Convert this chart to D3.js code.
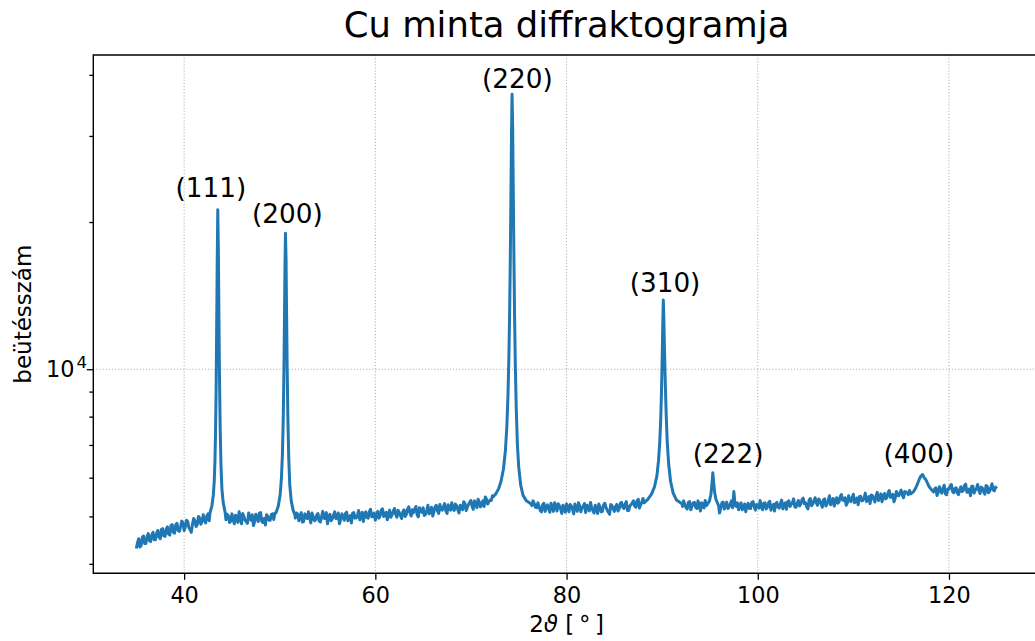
<!DOCTYPE html>
<html>
<head>
<meta charset="utf-8">
<script src="https://cdnjs.cloudflare.com/ajax/libs/d3/7.8.5/d3.min.js"></script>
<style>
  body { margin: 0; background: #fff; }
  svg { display: block; font-family: 'DejaVu Sans', sans-serif; }
</style>
</head>
<body>
<script>
// háttér (35°-tól 0.25°-os lépésben), a csúcsok alatt a csúcs-tömbök lépnek be
var bgStart = 35, bgStep = 0.25;
var bgCounts = [
  4300, 4500, 4360, 4560,  4400, 4610, 4440, 4640,  4480, 4680, 4500, 4720,  4550, 4760, 4580, 4810,
  4620, 4840, 4660, 4890,  4680, 4910, 4740, 4640,  4950, 4770, 5000, 4820,  5040, 4850, 5060, 4960,
  5000, 5000, 5000, 5000,  5000, 5000, 5050, 4860,  5060, 4830, 4960, 5110,  4830, 5000, 4880, 5080,
  4910, 4790, 5050, 4880,  5090, 4860, 4800, 5000,  4910, 5060, 5080, 5000,  5000, 5000, 5000, 5000,
  5000, 5000, 5000, 5080,  4900, 5090, 4880, 5010,  5110, 4850, 5000, 4920,  5070, 4870, 5120, 4950,
  4830, 5050, 4940, 5110,  4960, 4830, 5060, 4910,  5100, 4950, 4850, 5090,  4960, 5140, 4990, 4880,
  5110, 4960, 5170, 5000,  4910, 5120, 5010, 5180,  5030, 4920, 5150, 5040,  5190, 4980, 5090, 4950,
  5160, 5050, 5230, 5010,  5090, 5240, 4990, 5130,  5210, 5050, 5270, 5100,  5010, 5230, 5130, 5290,
  5150, 5310, 5070, 5220,  5330, 5140, 5260, 5080,  5250, 5360, 5140, 5290,  5390, 5170, 5310, 5420,
  5230, 5380, 5480, 5300,  5400, 5510, 5400, 5400,  5400, 5400, 5400, 5400,  5400, 5400, 5400, 5400,
  5400, 5400, 5400, 5400,  5400, 5400, 5380, 5220,  5330, 5140, 5280, 5120,  5280, 5100, 5240, 5330,
  5130, 5260, 5070, 5220,  5300, 5110, 5250, 5060,  5210, 5330, 5110, 5250,  5090, 5240, 5340, 5140,
  5270, 5070, 5230, 5120,  5320, 5150, 5050, 5260,  5120, 5290, 5180, 5340,  5190, 5360, 5140, 5280,
  5380, 5220, 5420, 5280,  5440, 5400, 5400, 5400,  5400, 5400, 5400, 5400,  5400, 5400, 5400, 5400,
  5400, 5400, 5400, 5400,  5300, 5380, 5210, 5350,  5160, 5330, 5220, 5380,  5130, 5300, 5390, 5300,
  5300, 5300, 5300, 5300,  5080, 5330, 5180, 5350,  5220, 5380, 5620, 5240,  5160, 5330, 5210, 5110,
  5320, 5190, 5360, 5150,  5270, 5390, 5160, 5330,  5220, 5370, 5260, 5130,  5340, 5200, 5400, 5270,
  5170, 5380, 5290, 5430,  5220, 5390, 5300, 5450,  5330, 5180, 5440, 5300,  5460, 5270, 5380, 5220,
  5430, 5300, 5510, 5340,  5250, 5460, 5350, 5540,  5390, 5270, 5510, 5360,  5550, 5380, 5280, 5500,
  5390, 5580, 5420, 5310,  5510, 5350, 5600, 5450,  5360, 5570, 5460, 5650,  5480, 5360, 5620, 5510,
  5660, 5460, 5610, 5540,  5600, 5600, 5600, 5600,  5600, 5600, 5600, 5600,  5600, 5600, 5690, 5520,
  5750, 5580, 5790, 5540,  5680, 5810, 5590, 5720,  5540, 5750, 5650, 5820,  5610, 5510, 5760, 5660,
  5810, 5570, 5710, 5550,  5760, 5630, 5830, 5640,  5700
];
// a köztes pontok (35.125°-tól 0.25°-os lépésben)
var bgCountsMid = [
  4420, 4330, 4530, 4400,  4550, 4460, 4590, 4480,  4620, 4540, 4700, 4560,  4710, 4600, 4790, 4640,
  4810, 4680, 4760, 4850,  4760, 4880, 4700, 4820,  4900, 4810, 4960, 4880,  4920, 5010, 4900, 5000,
  5000, 5000, 5000, 5000,  5000, 4920, 5010, 4890,  4930, 5030, 4860, 4980,  5070, 4910, 4840, 4990,
  5040, 4880, 4960, 5080,  4880, 4950, 5040, 4910,  5050, 4930, 5000, 5000,  5000, 5000, 5000, 5000,
  5000, 5000, 4960, 5060,  4990, 4870, 5060, 4950,  4980, 5080, 4900, 5030,  4890, 4990, 4960, 5090,
  5000, 4900, 5030, 4950,  5080, 4930, 4990, 5070,  4900, 5020, 5080, 4960,  5010, 4920, 5100, 5050,
  4970, 5120, 4990, 5080,  5040, 4960, 5150, 5000,  5100, 5060, 4980, 5120,  5050, 5150, 5020, 5110,
  5000, 5180, 5090, 5160,  5180, 5030, 5210, 5100,  5020, 5130, 5060, 5220,  5110, 5270, 5070, 5160,
  5240, 5130, 5280, 5150,  5190, 5300, 5160, 5270,  5160, 5310, 5220, 5350,  5240, 5380, 5210, 5350,
  5310, 5240, 5420, 5360,  5390, 5400, 5400, 5400,  5400, 5400, 5400, 5400,  5400, 5400, 5400, 5400,
  5400, 5400, 5400, 5400,  5400, 5260, 5310, 5210,  5240, 5110, 5320, 5200,  5190, 5320, 5120, 5260,
  5310, 5180, 5270, 5100,  5220, 5290, 5170, 5300,  5120, 5250, 5200, 5310,  5270, 5130, 5210, 5080,
  5190, 5300, 5110, 5280,  5220, 5100, 5290, 5180,  5240, 5130, 5320, 5220,  5300, 5140, 5260, 5330,
  5250, 5380, 5200, 5350,  5400, 5400, 5400, 5400,  5400, 5400, 5400, 5400,  5400, 5400, 5400, 5400,
  5400, 5400, 5400, 5400,  5240, 5290, 5180, 5360,  5250, 5340, 5190, 5270,  5330, 5200, 5260, 5300,
  5300, 5300, 5300, 5300,  5200, 5350, 5260, 5190,  5300, 5210, 5280, 5330,  5250, 5160, 5300, 5260,
  5190, 5340, 5240, 5290,  5200, 5240, 5320, 5180,  5330, 5150, 5290, 5310,  5220, 5310, 5180, 5330,
  5360, 5240, 5340, 5230,  5320, 5250, 5410, 5310,  5230, 5400, 5260, 5380,  5330, 5430, 5300, 5410,
  5250, 5390, 5280, 5440,  5380, 5320, 5490, 5400,  5460, 5330, 5390, 5470,  5330, 5450, 5490, 5380,
  5460, 5360, 5490, 5530,  5430, 5510, 5390, 5560,  5500, 5430, 5590, 5470,  5550, 5450, 5520, 5600,
  5520, 5620, 5580, 5650,  5600, 5600, 5600, 5600,  5600, 5600, 5600, 5600,  5600, 5610, 5720, 5600,
  5640, 5700, 5560, 5690,  5770, 5620, 5700, 5580,  5680, 5620, 5790, 5600,  5690, 5760, 5580, 5700,
  5650, 5740, 5620, 5780,  5590, 5720, 5660, 5740
];

// csúcsok: [2θ, beütés]
var peak111 = [[42.70, 5080], [42.90, 5250], [43.05, 5520], [43.15, 5900], [43.22, 6450], [43.28, 7300],
  [43.34, 8900], [43.40, 11800], [43.46, 16500], [43.52, 21200], [43.58, 17500], [43.64, 12800],
  [43.70, 9600], [43.77, 7600], [43.85, 6400], [43.95, 5700], [44.08, 5350], [44.30, 5080]];
var peak200 = [[49.60, 5080], [49.85, 5250], [50.05, 5550], [50.18, 6000], [50.28, 6700], [50.36, 7800],
  [50.43, 9600], [50.49, 12300], [50.55, 16200], [50.60, 18970], [50.66, 16800], [50.72, 12900],
  [50.78, 10000], [50.85, 8000], [50.94, 6600], [51.05, 5800], [51.20, 5380], [51.40, 5150], [51.60, 5030]];
var peak220 = [[72.30, 5480], [72.60, 5560], [72.90, 5700], [73.15, 5900], [73.40, 6250], [73.60, 6800],
  [73.75, 7600], [73.87, 8800], [73.97, 10600], [74.05, 13200], [74.12, 17000], [74.18, 22500],
  [74.24, 30000], [74.30, 36500], [74.36, 31500], [74.42, 24000], [74.49, 17500], [74.56, 13000],
  [74.64, 10200], [74.74, 8300], [74.86, 7000], [75.00, 6300], [75.20, 5800], [75.45, 5520],
  [75.80, 5380], [76.30, 5300]];
var peak310 = [[88.10, 5330], [88.50, 5420], [88.90, 5560], [89.20, 5750], [89.45, 6050], [89.62, 6500],
  [89.75, 7100], [89.85, 7900], [89.93, 9000], [90.00, 10400], [90.06, 12200], [90.12, 13850],
  [90.18, 12600], [90.25, 10800], [90.33, 9300], [90.42, 8100], [90.53, 7100], [90.68, 6400],
  [90.88, 5900], [91.15, 5580], [91.50, 5400], [92.10, 5300]];
var peak222 = [[94.70, 5280], [94.95, 5380], [95.10, 5550], [95.20, 5800], [95.30, 6140], [95.38, 5900],
  [95.48, 5620], [95.62, 5420], [95.90, 5260]];
var peak400 = [[116.00, 5560], [116.30, 5620], [116.55, 5730], [116.75, 5860], [116.95, 5990],
  [117.10, 6060], [117.25, 6090], [117.40, 6000], [117.55, 5960], [117.70, 5880], [117.90, 5760],
  [118.10, 5690], [118.30, 5640]];

var peakLabels = ['(111)', '(200)', '(220)', '(310)', '(222)', '(400)'];
var labelAngles = [42.8, 50.8, 74.85, 90.3, 96.9, 116.85];
var labelCounts = [22500, 19890, 37550, 14410, 6420, 6420];

var xTicks = [40, 60, 80, 100, 120];
var yMinorTicks = [4000, 5000, 6000, 7000, 8000, 9000, 20000, 30000, 40000];
var yMajorTicks = [10000];

var width = 1035, height = 641;
var plotL = 93.3, plotR = 1039.8, plotT = 55, plotB = 573.3;

var svg = d3.select('body').append('svg').attr('width', width).attr('height', height);

var x = d3.scaleLinear().domain([30.5, 129.5]).range([plotL, plotR]);
var y = d3.scaleLog().domain([3825, 43920]).range([plotB, plotT]);

// mérési pontok összefésülése
var peaks = [peak111, peak200, peak220, peak310, peak222, peak400];
var scan = [];
function addBg(counts, offset){
	counts.forEach(function(c, i){
		var a = bgStart + offset + i * bgStep;
		var inside = peaks.some(p => a >= p[0][0] && a <= p[p.length - 1][0]);
		if (!inside) scan.push([a, c]);
	});
}
addBg(bgCounts, 0);
addBg(bgCountsMid, bgStep / 2);
peaks.forEach(p => p.forEach(d => scan.push(d)));
scan.sort((a, b) => a[0] - b[0]);

// rács
var grid = svg.append('g').attr('stroke', '#b0b0b0').attr('stroke-width', 1).attr('stroke-dasharray', '1.2,1.9');
grid.selectAll('.vx').data(xTicks).enter().append('line')
	.attr('x1', d => x(d)).attr('x2', d => x(d)).attr('y1', plotT).attr('y2', plotB);
grid.selectAll('.hy').data(yMajorTicks).enter().append('line')
	.attr('x1', plotL).attr('x2', plotR).attr('y1', d => y(d)).attr('y2', d => y(d));

// görbe
svg.append('path').datum(scan)
	.attr('fill', 'none').attr('stroke', '#1f77b4').attr('stroke-width', 3)
	.attr('stroke-linejoin', 'round')
	.attr('d', d3.line().x(d => x(d[0])).y(d => y(d[1])));

// tengelyek
var xAxis = d3.axisBottom(x).tickValues(xTicks).tickSize(6.5).tickFormat(d3.format('d'));
var gx = svg.append('g').attr('transform', 'translate(0,' + plotB + ')').call(xAxis);
gx.select('.domain').remove();
gx.selectAll('line').attr('stroke', '#000').attr('stroke-width', 1.3);
gx.selectAll('text').attr('y', 30).attr('dy', null).attr('font-size', 22.4)
	.attr('font-family', 'DejaVu Sans').attr('fill', '#000');

var yAxis = d3.axisLeft(y).tickValues(yMinorTicks.concat(yMajorTicks)).tickFormat('');
var gy = svg.append('g').attr('transform', 'translate(' + plotL + ',0)').call(yAxis);
gy.select('.domain').remove();
gy.selectAll('.tick line').attr('stroke', '#000').attr('stroke-width', 1.3)
	.attr('x2', d => yMajorTicks.indexOf(d) >= 0 ? -6.5 : -4);
gy.selectAll('.tick text').remove();
var ylab = svg.selectAll('.ymaj').data(yMajorTicks).enter().append('text')
	.attr('x', 87).attr('y', d => y(d) + 8).attr('text-anchor', 'end')
	.attr('font-size', 22.4).attr('fill', '#000');
ylab.append('tspan').text('10');
ylab.append('tspan').attr('font-size', 16.5).attr('dx', 2).attr('dy', -9).text(d => Math.log10(d));

// keret
svg.append('path').attr('fill', 'none').attr('stroke', '#000').attr('stroke-width', 1.4)
	.attr('d', 'M' + plotR + ',' + plotT + 'H' + plotL + 'V' + plotB + 'H' + plotR);

// csúcsfeliratok
svg.selectAll('.lab').data(peakLabels).enter().append('text')
	.attr('x', (d, i) => x(labelAngles[i])).attr('y', (d, i) => y(labelCounts[i]))
	.attr('text-anchor', 'middle').attr('font-size', 26.3).attr('fill', '#000')
	.text(d => d);

// címek
svg.append('text').attr('x', (plotL + plotR) / 2).attr('y', 36.5).attr('text-anchor', 'middle')
	.attr('font-size', 35.4).attr('fill', '#000').text('Cu minta diffraktogramja');

var xl = svg.append('text').attr('x', (plotL + plotR) / 2).attr('y', 632).attr('text-anchor', 'middle')
	.attr('font-size', 23).attr('fill', '#000');
xl.append('tspan').text('2');
xl.append('tspan').attr('font-style', 'italic').text('\u03d1');
xl.append('tspan').text(' [\u2009°\u2009]');

svg.append('text').attr('transform', 'translate(31,' + (plotT + plotB) / 2 + ') rotate(-90)')
	.attr('text-anchor', 'middle').attr('font-size', 23).attr('fill', '#000').text('beütésszám');
</script>
</body>
</html>
